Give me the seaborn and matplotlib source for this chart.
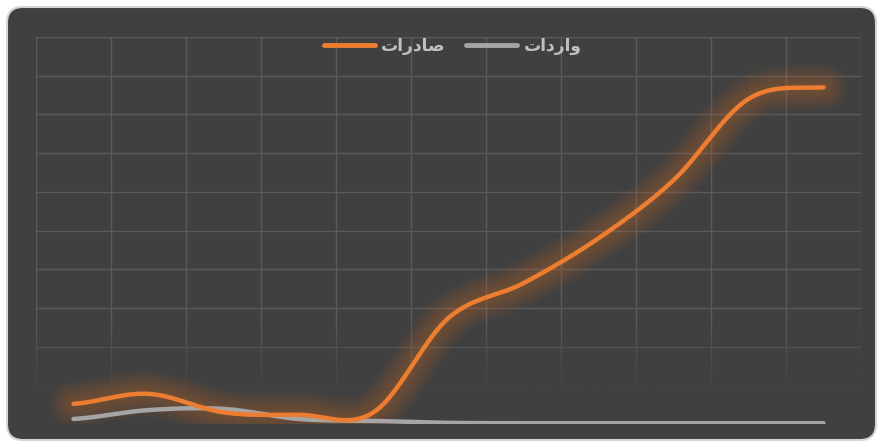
import numpy as np
import pandas as pd
import matplotlib
matplotlib.use("Agg")
import matplotlib.pyplot as plt
import seaborn as sns
from matplotlib.patches import FancyBboxPatch
from matplotlib.lines import Line2D
from matplotlib.transforms import IdentityTransform

# values (11 periods, no visible tick labels)
periods = list(range(11))
exports = [0.52, 0.78, 0.30, 0.24, 0.30, 2.74, 3.64, 4.80, 6.30, 8.40, 8.70]
imports = [0.13, 0.36, 0.39, 0.13, 0.08, 0.03, 0.02, 0.02, 0.02, 0.02, 0.02]

# labels (pre-shaped Arabic presentation forms, visual order)
exports_label = "\uFE95\uFE8D\uFEAD\uFEA9\uFE8E\uFEBB"   # صادرات
imports_label = "\uFE95\uFE8D\uFEA9\uFEAD\uFE8D\uFEED"   # واردات

ORANGE = "#ED7D31"
GREY = "#A5A5A5"
BG = "#404040"


def smooth(xs, ys, n=40):
    # catmull-rom curve through the points, like a "smoothed line" chart
    xs = np.asarray(xs, float)
    ys = np.asarray(ys, float)
    px = np.concatenate([[2 * xs[0] - xs[1]], xs, [2 * xs[-1] - xs[-2]]])
    py = np.concatenate([[ys[0]], ys, [ys[-1]]])
    outx, outy = [], []
    t = np.linspace(0, 1, n, endpoint=False)
    for i in range(1, len(px) - 2):
        for p, out in ((px, outx), (py, outy)):
            p0, p1, p2, p3 = p[i - 1], p[i], p[i + 1], p[i + 2]
            out.extend(0.5 * ((2 * p1) + (-p0 + p2) * t
                              + (2 * p0 - 5 * p1 + 4 * p2 - p3) * t ** 2
                              + (-p0 + 3 * p1 - 3 * p2 + p3) * t ** 3))
    outx.append(xs[-1])
    outy.append(ys[-1])
    return np.array(outx), np.array(outy)


sns.set_style("dark")
plt.rcParams["font.family"] = ["DejaVu Sans"]

fig = plt.figure(figsize=(8.8, 4.47), dpi=100, facecolor="white")

# rounded dark card behind the chart
card = FancyBboxPatch((7, 7), 869, 433, boxstyle="round,pad=0,rounding_size=16",
                      transform=IdentityTransform(), facecolor=BG,
                      edgecolor="#d4d4d4", linewidth=1.5, zorder=-10)
fig.add_artist(card)

ax = fig.add_axes([36 / 880, 1 - 424 / 447, 825 / 880, 387 / 447])
ax.set_facecolor(BG)
ax.set_axisbelow(True)

ex_x, ex_y = smooth(periods, exports)
im_x, im_y = smooth(periods, imports)
df_ex = pd.DataFrame({"x": ex_x, "y": ex_y})
df_im = pd.DataFrame({"x": im_x, "y": im_y})

# soft glow under the orange line (many faint strokes -> blurred look)
for lw in np.arange(34, 4, -2.5):
    sns.lineplot(data=df_ex, x="x", y="y", ax=ax, color=ORANGE, linewidth=lw,
                 alpha=0.028, estimator=None, sort=False, zorder=2,
                 solid_capstyle="round")

sns.lineplot(data=df_im, x="x", y="y", ax=ax, color=GREY, linewidth=3.2,
             estimator=None, sort=False, zorder=3, solid_capstyle="round")
sns.lineplot(data=df_ex, x="x", y="y", ax=ax, color=ORANGE, linewidth=3.2,
             estimator=None, sort=False, zorder=4, solid_capstyle="round")

# fade the grid towards the bottom
grad = np.zeros((100, 2, 4))
grad[..., :3] = matplotlib.colors.to_rgb(BG)
grad[..., 3] = np.clip(np.linspace(0.0, 1.4, 100), 0, 1)[:, None]
ax.imshow(grad, extent=[-0.5, 10.5, 0, 2.7], origin="upper", aspect="auto",
          zorder=1, interpolation="bilinear")

ax.set_xlim(-0.5, 10.5)
ax.set_ylim(0, 10)
ax.set_xticks(np.arange(-0.5, 11, 1))
ax.set_yticks(np.arange(0, 11, 1))
ax.tick_params(length=0, labelbottom=False, labelleft=False)
ax.grid(True, color="#5a5a5a", linewidth=1)
ax.set_xlabel("")
ax.set_ylabel("")
for s in ax.spines.values():
    s.set_visible(False)

handles = [Line2D([], [], color=ORANGE, linewidth=3.5, solid_capstyle="round"),
           Line2D([], [], color=GREY, linewidth=3.5, solid_capstyle="round")]
leg = ax.legend(handles, [exports_label, imports_label], ncol=2,
                loc="upper center", bbox_to_anchor=(0.505, 1.04),
                frameon=False, handlelength=3.0, handletextpad=0.35,
                columnspacing=1.2, prop={"size": 12.3, "weight": "bold"})
for t in leg.get_texts():
    t.set_color("#bfbfbf")

fig.savefig("out.png", dpi=100, facecolor="white")
